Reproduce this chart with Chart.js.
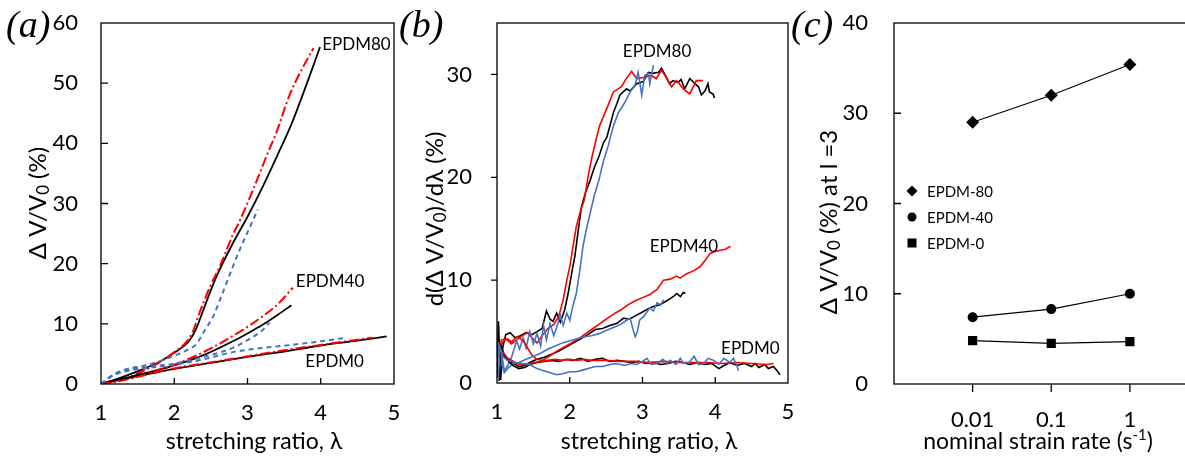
<!DOCTYPE html>
<html lang="en">
<head>
<meta charset="utf-8">
<title>EPDM</title>
<script src="https://cdn.jsdelivr.net/npm/chart.js@4.4.1/dist/chart.umd.min.js"></script>
<style>
  body { margin: 0; width: 1185px; height: 457px; overflow: hidden; background: #fff; font-family: Lato, 'Open Sans', sans-serif; color: #000; position: relative; }
  canvas { position: absolute; top: 0; }
  #ca { left: 0; }
  #cb { left: 400px; }
  #cc { left: 795px; }
  .painel { position: absolute; top: 5px; font-family: 'Liberation Serif', 'DejaVu Serif', serif; font-style: italic; font-size: 38px; line-height: 1; }
  .ytit { position: absolute; white-space: nowrap; font-size: 24px; line-height: 1; transform: translate(-50%, -50%) rotate(-90deg); }
  .xtit { position: absolute; white-space: nowrap; font-size: 23px; line-height: 1; transform: translateX(-50%); top: 429px; }
  sub { font-size: 0.7em; vertical-align: -0.2em; line-height: 0; }
  sup { font-size: 0.65em; vertical-align: 0.6em; line-height: 0; }
</style>
</head>
<body>
<canvas id="ca" width="400" height="457"></canvas>
<canvas id="cb" width="395" height="457"></canvas>
<canvas id="cc" width="420" height="457"></canvas>

<div class="painel" style="left:6px">(a)</div>
<div class="painel" style="left:399px">(b)</div>
<div class="painel" style="left:791px">(c)</div>

<div class="ytit" style="left:37px; top:203px">Δ V/V<sub>0</sub> (%)</div>
<div class="ytit" style="left:434px; top:219px">d(Δ V/V<sub>0</sub>)/dλ (%)</div>
<div class="ytit" style="left:828px; top:222px">Δ V/V<sub>0</sub> (%) at l =3</div>

<div class="xtit" style="left:254px">stretching ratio, λ</div>
<div class="xtit" style="left:649px">stretching ratio, λ</div>
<div class="xtit" style="left:1038px">nominal strain rate (s<sup>-1</sup>)</div>

<script>
// ===== Dados =====
// Ticks
const ticksLambda = [1, 2, 3, 4, 5];
const ticksA = [0, 10, 20, 30, 40, 50, 60];
const ticksB = [0, 10, 20, 30];
const ticksC = [0, 10, 20, 30, 40];
const taxas = [0.01, 0.1, 1];

// (a) ΔV/V0 x λ  -> preto, vermelho, azul
const a80preto = [[1,0],[1.3,1.2],[1.6,2.6],[1.8,3.7],[2.0,5.2],[2.2,7.1],[2.3,9.2],[2.4,12.4],[2.5,15.6],[2.6,18.5],[2.8,23.4],[3.0,27.8],[3.2,32.6],[3.4,37.8],[3.6,43.2],[3.8,49.6],[3.99,56.0]];
const a80verm  = [[1,0],[1.3,0.8],[1.6,2.3],[1.8,3.6],[2.0,5.3],[2.15,6.8],[2.25,8.6],[2.35,12.0],[2.5,16.5],[2.62,19.5],[2.8,24.8],[2.9,27.3],[3.1,33.0],[3.26,37.9],[3.4,42.0],[3.57,47.9],[3.75,52.5],[3.9,55.8]];
const a80azul  = [[1,0],[1.15,1.4],[1.3,2.3],[1.6,3.1],[1.8,3.8],[2.0,4.7],[2.2,5.8],[2.3,6.6],[2.42,9.0],[2.53,11.2],[2.65,14.8],[2.8,19.5],[2.9,22.5],[3.0,25.2],[3.14,29.0]];
const a40preto = [[1,0],[1.3,0.9],[1.6,1.8],[2.0,3.1],[2.4,4.8],[2.8,7.1],[3.0,8.4],[3.2,9.8],[3.4,11.4],[3.6,13.1]];
const a40verm  = [[1,0],[1.3,0.7],[1.6,1.6],[2.0,3.2],[2.4,5.3],[2.8,8.0],[3.0,9.5],[3.2,11.2],[3.4,13.1],[3.62,16.0]];
const a40azul  = [[1,0],[1.15,1.4],[1.3,2.2],[1.6,2.8],[2.0,3.4],[2.4,4.5],[2.8,6.0],[3.0,7.3],[3.2,8.9],[3.3,10.2]];
const a0preto  = [[1,0],[1.5,1.3],[2.0,2.5],[2.5,3.5],[3.0,4.5],[3.5,5.4],[4.0,6.4],[4.5,7.2],[4.9,7.9]];
const a0verm   = [[1,0],[1.3,0.6],[1.6,1.5],[2.0,2.6],[2.5,3.6],[3.0,4.6],[3.5,5.6],[4.0,6.5],[4.4,7.2],[4.7,7.7]];
const a0azul   = [[1,0],[1.15,1.3],[1.3,2.0],[1.6,2.6],[2.0,3.2],[2.4,4.1],[2.8,5.3],[3.2,6.0],[3.6,6.5],[4.0,7.1],[4.35,7.7]];

// (b) d(ΔV/V0)/dλ x λ
const b80preto = [[1.0,0.5],[1.02,6.0],[1.05,0.3],[1.08,3.5],[1.12,4.7],[1.18,4.9],[1.25,4.4],[1.32,4.6],[1.4,4.9],[1.48,4.7],[1.55,5.0],[1.62,5.3],[1.68,7.0],[1.73,6.2],[1.77,6.0],[1.82,6.8],[1.87,5.9],[1.93,7.1],[1.98,8.8],[2.03,10.8],[2.07,12.3],[2.12,15.0],[2.16,17.1],[2.22,18.6],[2.28,19.7],[2.34,21.0],[2.4,22.0],[2.46,23.3],[2.51,23.9],[2.56,25.2],[2.6,26.3],[2.65,27.2],[2.69,28.0],[2.78,28.6],[2.83,28.4],[2.92,29.1],[3.01,29.3],[3.08,30.2],[3.14,30.1],[3.22,30.2],[3.26,30.6],[3.3,30.1],[3.35,29.4],[3.37,29.1],[3.42,29.4],[3.49,29.2],[3.53,29.5],[3.58,28.6],[3.65,29.6],[3.72,29.1],[3.77,28.8],[3.81,28.0],[3.86,28.4],[3.9,29.1],[3.92,28.3],[3.97,28.1],[3.99,27.7]];
const b80verm  = [[1.03,2.5],[1.06,4.2],[1.12,4.3],[1.2,3.8],[1.27,4.2],[1.35,4.6],[1.42,4.9],[1.48,4.4],[1.55,3.9],[1.62,4.6],[1.7,5.3],[1.78,5.7],[1.85,6.5],[1.91,8.1],[1.96,10.0],[2.0,11.3],[2.05,13.5],[2.09,15.2],[2.15,16.8],[2.2,17.8],[2.25,20.0],[2.3,21.8],[2.36,23.6],[2.41,25.0],[2.51,26.7],[2.6,28.3],[2.71,28.8],[2.76,29.4],[2.85,30.3],[2.92,29.6],[3.01,29.7],[3.12,29.9],[3.19,29.6],[3.26,30.4],[3.33,29.7],[3.4,28.8],[3.47,29.4],[3.56,28.6],[3.65,28.1],[3.74,29.4],[3.83,29.4]];
const b80azul  = [[1.02,4.0],[1.04,1.5],[1.07,2.6],[1.1,1.2],[1.14,1.6],[1.2,2.5],[1.27,4.1],[1.31,3.3],[1.36,4.4],[1.4,3.4],[1.45,5.0],[1.5,3.8],[1.55,4.8],[1.6,3.6],[1.64,5.6],[1.68,4.2],[1.73,5.8],[1.78,4.6],[1.82,5.4],[1.87,6.6],[1.91,5.6],[1.96,6.8],[2.0,6.1],[2.04,7.4],[2.09,8.7],[2.14,11.0],[2.18,13.2],[2.23,15.0],[2.28,16.5],[2.34,18.3],[2.4,19.7],[2.46,21.5],[2.53,23.1],[2.6,25.0],[2.67,26.3],[2.76,27.3],[2.83,28.3],[2.9,29.0],[2.94,30.2],[2.99,28.0],[3.03,29.9],[3.08,30.1],[3.1,29.1],[3.15,30.9]];
const b40preto = [[1.05,3.3],[1.1,2.6],[1.2,2.0],[1.3,1.6],[1.38,1.7],[1.45,2.0],[1.55,2.3],[1.65,2.5],[1.75,2.8],[1.85,3.1],[1.95,3.5],[2.05,3.9],[2.15,4.3],[2.25,4.7],[2.35,5.2],[2.45,5.3],[2.55,5.6],[2.65,5.8],[2.74,6.3],[2.82,6.2],[2.92,6.6],[3.0,6.9],[3.1,7.3],[3.18,7.5],[3.24,7.6],[3.31,7.9],[3.38,8.2],[3.44,8.5],[3.47,8.7],[3.52,8.4],[3.56,8.8],[3.59,8.7]];
const b40verm  = [[1.03,3.0],[1.08,4.0],[1.14,4.3],[1.2,4.0],[1.28,4.5],[1.36,4.1],[1.42,3.4],[1.48,2.7],[1.55,2.3],[1.62,2.2],[1.7,2.5],[1.8,3.0],[1.9,3.4],[2.0,3.8],[2.1,4.2],[2.2,4.7],[2.3,5.2],[2.4,5.7],[2.5,6.2],[2.6,6.7],[2.7,7.1],[2.8,7.6],[2.9,8.0],[3.0,8.3],[3.1,8.6],[3.2,9.1],[3.29,10.0],[3.38,10.1],[3.47,10.4],[3.52,10.2],[3.6,10.6],[3.7,10.9],[3.79,11.3],[3.87,12.0],[3.93,12.6],[4.0,12.8],[4.07,12.9],[4.14,13.0],[4.21,13.3]];
const b40azul  = [[1.02,3.0],[1.05,2.2],[1.1,1.0],[1.16,1.5],[1.22,1.9],[1.3,2.0],[1.4,2.3],[1.5,2.6],[1.6,2.9],[1.7,3.3],[1.8,3.6],[1.9,3.9],[2.0,4.1],[2.1,4.3],[2.2,4.5],[2.3,4.6],[2.4,4.8],[2.5,5.1],[2.6,5.4],[2.7,5.7],[2.78,6.1],[2.83,6.3],[2.87,5.2],[2.9,4.5],[2.93,5.0],[2.96,6.1],[3.02,6.5],[3.1,7.3],[3.15,7.0],[3.2,7.8],[3.25,7.6],[3.29,8.1]];
const b0preto  = [[1.03,0.2],[1.05,3.6],[1.1,2.8],[1.16,2.1],[1.22,1.7],[1.3,1.4],[1.38,1.5],[1.45,1.8],[1.55,2.0],[1.65,2.1],[1.75,2.2],[1.85,2.1],[1.95,2.3],[2.05,2.2],[2.15,2.4],[2.25,2.1],[2.35,2.3],[2.45,2.4],[2.55,2.1],[2.65,2.2],[2.75,2.1],[2.85,2.0],[2.95,2.1],[3.05,1.9],[3.15,2.0],[3.25,1.8],[3.35,1.9],[3.45,2.1],[3.55,2.0],[3.65,1.8],[3.75,2.0],[3.85,1.8],[3.95,1.9],[4.05,1.4],[4.12,1.7],[4.2,2.0],[4.3,1.7],[4.4,1.9],[4.5,1.6],[4.55,1.9],[4.6,1.5],[4.68,1.8],[4.73,1.4],[4.8,1.6],[4.85,1.2],[4.89,0.8]];
const b0verm   = [[1.05,3.2],[1.15,2.4],[1.3,1.8],[1.45,1.9],[1.6,2.1],[1.7,2.2],[1.8,2.3],[1.9,2.2],[2.0,2.3],[2.1,2.2],[2.2,2.3],[2.3,2.2],[2.5,2.2],[2.7,2.1],[2.9,2.1],[3.1,2.0],[3.3,2.1],[3.5,2.0],[3.7,2.0],[3.9,2.0],[4.1,1.9],[4.3,2.0],[4.5,1.9],[4.7,1.8],[4.8,1.9]];
const b0azul   = [[1.02,0.6],[1.04,3.5],[1.08,2.6],[1.14,2.2],[1.25,2.0],[1.35,1.9],[1.45,1.8],[1.55,1.4],[1.64,1.2],[1.73,1.0],[1.82,0.8],[1.9,0.9],[2.0,1.1],[2.09,1.1],[2.2,1.3],[2.3,1.5],[2.36,1.6],[2.45,1.6],[2.55,1.8],[2.65,1.9],[2.75,1.7],[2.85,1.9],[2.92,1.8],[3.0,2.1],[3.06,2.4],[3.12,1.8],[3.2,1.9],[3.28,2.3],[3.34,1.9],[3.38,2.2],[3.46,1.8],[3.52,2.4],[3.56,1.9],[3.64,2.0],[3.71,2.6],[3.77,1.8],[3.84,1.9],[3.9,2.4],[3.98,2.2],[4.05,1.8],[4.12,2.4],[4.2,2.0],[4.25,2.4],[4.3,1.6],[4.32,1.2]];

// (c) ΔV/V0 em λ=3 x taxa
const c80 = [29.0, 32.0, 35.4];
const c40 = [7.4, 8.3, 10.0];
const c0  = [4.8, 4.5, 4.7];

// Rótulos dentro dos gráficos
const rotulosA = [{ txt: 'EPDM80', x: 4.02, y: 56.4 }, { txt: 'EPDM40', x: 3.66, y: 17.0 }, { txt: 'EPDM0', x: 3.79, y: 3.8 }];
const rotulosB = [{ txt: 'EPDM80', x: 2.73, y: 32.2 }, { txt: 'EPDM40', x: 3.10, y: 13.3 }, { txt: 'EPDM0', x: 4.08, y: 3.4 }];
const legendaC = [{ txt: 'EPDM-80', forma: 'losango' }, { txt: 'EPDM-40', forma: 'circulo' }, { txt: 'EPDM-0', forma: 'quadrado' }];

// ===== Estilo =====
Chart.defaults.font.family = 'Lato, "Open Sans", sans-serif';
Chart.defaults.color = '#000';
const PRETO = '#000000';
const VERM = '#ff0000';
const AZUL = '#4472c4';

const pts = arr => arr.map(p => ({ x: p[0], y: p[1] }));

// moldura, marcas de tick, rótulos e legenda
const moldura = {
  id: 'moldura',
  afterDraw(chart, args, o) {
    const { ctx, chartArea: a, scales: { x, y } } = chart;
    ctx.save();
    ctx.strokeStyle = '#000';
    ctx.lineWidth = 1.3;
    ctx.strokeRect(a.left, a.top, a.right - a.left, a.bottom - a.top);
    ctx.beginPath();
    o.marcasX.forEach(v => {
      const px = x.getPixelForValue(v);
      ctx.moveTo(px, a.bottom + o.xFora);
      ctx.lineTo(px, a.bottom - o.xDentro);
    });
    o.marcasY.forEach(v => {
      const py = y.getPixelForValue(v);
      ctx.moveTo(a.left - o.yFora, py);
      ctx.lineTo(a.left + o.yDentro, py);
    });
    ctx.stroke();

    ctx.fillStyle = '#000';
    ctx.textBaseline = 'middle';
    ctx.textAlign = 'left';
    ctx.font = '17px Lato, "Open Sans", sans-serif';
    (o.rotulos || []).forEach(r => {
      ctx.fillText(r.txt, x.getPixelForValue(r.x), y.getPixelForValue(r.y));
    });

    if (o.legenda) {
      ctx.font = '15px Lato, "Open Sans", sans-serif';
      o.legenda.forEach((item, i) => {
        const mx = a.left + 18, my = a.top + 168 + i * 26;
        ctx.beginPath();
        if (item.forma === 'losango') {
          ctx.moveTo(mx - 5.5, my); ctx.lineTo(mx, my - 5.5); ctx.lineTo(mx + 5.5, my); ctx.lineTo(mx, my + 5.5);
          ctx.closePath();
        } else if (item.forma === 'circulo') {
          ctx.arc(mx, my, 4.5, 0, Math.PI * 2);
        } else {
          ctx.rect(mx - 4.5, my - 4.5, 9, 9);
        }
        ctx.fill();
        ctx.fillText(item.txt, mx + 15, my + 1);
      });
    }
    ctx.restore();
  }
};

function eixoX(tipo, min, max, ticks, altura, pad) {
  return {
    type: tipo, min, max,
    afterBuildTicks: s => { s.ticks = ticks.map(v => ({ value: v })); },
    afterFit: s => { s.height = altura; s.paddingLeft = 0; s.paddingRight = 0; },
    grid: { display: false, drawTicks: false },
    border: { display: false },
    ticks: { padding: pad, autoSkip: false, maxRotation: 0, font: { size: 22 }, callback: v => String(v) }
  };
}

function eixoY(min, max, ticks, largura, pad) {
  return {
    type: 'linear', min, max,
    afterBuildTicks: s => { s.ticks = ticks.map(v => ({ value: v })); },
    afterFit: s => { s.width = largura; s.paddingTop = 0; s.paddingBottom = 0; },
    grid: { display: false, drawTicks: false },
    border: { display: false },
    ticks: { padding: pad, autoSkip: false, font: { size: 22 } }
  };
}

function serieA(dados, cor) {
  const base = { data: pts(dados), borderColor: cor, showLine: true, pointRadius: 0, cubicInterpolationMode: 'monotone', borderWidth: 2 };
  if (cor === VERM) base.borderDash = [10, 3, 2, 3];
  if (cor === AZUL) base.borderDash = [5, 4];
  if (cor === PRETO) base.borderWidth = 1.8;
  return base;
}

function serieB(dados, cor) {
  return { data: pts(dados), borderColor: cor, showLine: true, pointRadius: 0, borderWidth: 1.6, tension: 0 };
}

const comum = {
  responsive: false,
  animation: false,
  events: []
};

// ===== (a) =====
new Chart(document.getElementById('ca'), {
  type: 'scatter',
  data: {
    datasets: [
      serieA(a0azul, AZUL), serieA(a0verm, VERM), serieA(a0preto, PRETO),
      serieA(a40azul, AZUL), serieA(a40verm, VERM), serieA(a40preto, PRETO),
      serieA(a80azul, AZUL), serieA(a80verm, VERM), serieA(a80preto, PRETO)
    ]
  },
  options: {
    ...comum,
    layout: { padding: { top: 23, right: 6, left: 0, bottom: 0 } },
    scales: {
      x: eixoX('linear', 1, 5, ticksLambda, 73, 16),
      y: eixoY(0, 60, ticksA, 101, 23)
    },
    plugins: {
      legend: { display: false },
      tooltip: { enabled: false },
      moldura: { marcasX: [2, 3, 4], xFora: 0, xDentro: 6, marcasY: [10, 20, 30, 40, 50], yFora: 0, yDentro: 7, rotulos: rotulosA }
    }
  },
  plugins: [moldura]
});

// ===== (b) =====
new Chart(document.getElementById('cb'), {
  type: 'scatter',
  data: {
    datasets: [
      serieB(b0azul, AZUL), serieB(b0verm, VERM), serieB(b0preto, PRETO),
      serieB(b40azul, AZUL), serieB(b40verm, VERM), serieB(b40preto, PRETO),
      serieB(b80azul, AZUL), serieB(b80verm, VERM), serieB(b80preto, PRETO)
    ]
  },
  options: {
    ...comum,
    layout: { padding: { top: 23, right: 7, left: 0, bottom: 0 } },
    scales: {
      x: eixoX('linear', 1, 5, ticksLambda, 74, 16),
      y: eixoY(0, 35, ticksB, 97, 25)
    },
    plugins: {
      legend: { display: false },
      tooltip: { enabled: false },
      moldura: { marcasX: [2, 3, 4], xFora: 0, xDentro: 6, marcasY: [10, 20, 30], yFora: 6, yDentro: 0, rotulos: rotulosB }
    }
  },
  plugins: [moldura]
});

// ===== (c) =====
const serieC = (vals, estilo, raio) => ({
  data: taxas.map((t, i) => ({ x: t, y: vals[i] })),
  showLine: true, borderColor: PRETO, borderWidth: 1.2,
  pointStyle: estilo, pointRadius: raio, pointBackgroundColor: PRETO, pointBorderColor: PRETO, pointBorderWidth: 0
});

new Chart(document.getElementById('cc'), {
  type: 'scatter',
  data: {
    datasets: [
      serieC(c80, 'rectRot', 6.5),
      serieC(c40, 'circle', 5),
      serieC(c0, 'rect', 6.5)
    ]
  },
  options: {
    ...comum,
    layout: { padding: { top: 23, right: 5, left: 0, bottom: 0 } },
    scales: {
      x: eixoX('logarithmic', 0.001, 10, taxas, 73, 23),
      y: eixoY(0, 40, ticksC, 99, 26)
    },
    plugins: {
      legend: { display: false },
      tooltip: { enabled: false },
      moldura: { marcasX: taxas, xFora: 8, xDentro: 0, marcasY: [10, 20, 30], yFora: 0, yDentro: 7, legenda: legendaC }
    }
  },
  plugins: [moldura]
});
</script>
</body>
</html>
